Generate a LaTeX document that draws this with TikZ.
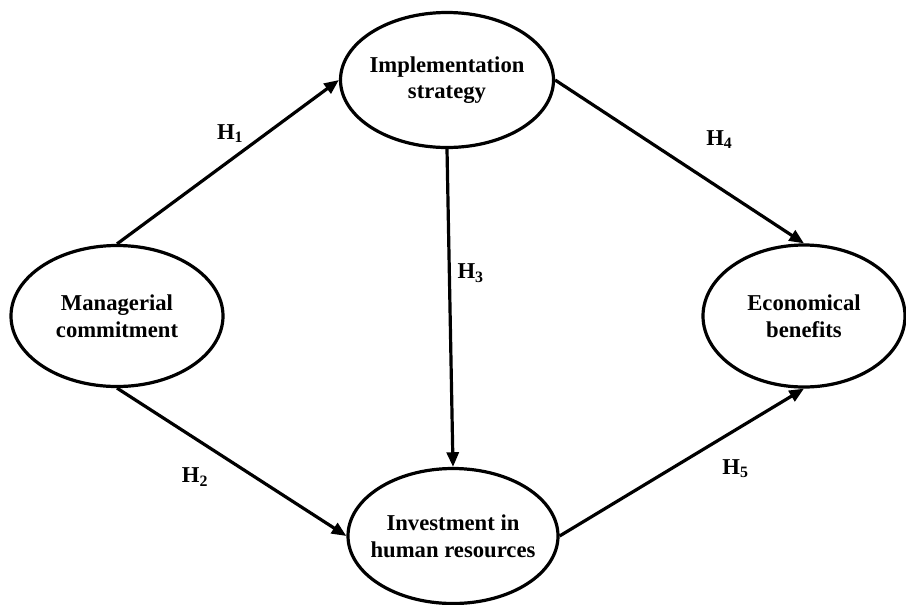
\documentclass[tikz,border=0pt]{standalone}
\usepackage{fontspec}
\setmainfont{Liberation Serif}
\usetikzlibrary{shapes, arrows.meta}

\begin{document}
\begin{tikzpicture}[x=0.75pt, y=-0.75pt, >={Triangle[length=11pt,width=9pt]},
    construct/.style 2 args={draw, ellipse, line width=2.4pt, inner sep=0pt,
      minimum width=#1*0.75pt, minimum height=#2*0.75pt},
    txt/.style={inner sep=0pt, align=center, font=\bfseries\fontsize{17pt}{20pt}\selectfont},
    hyp/.style={inner sep=0pt, font=\bfseries\fontsize{17pt}{20pt}\selectfont}]
      \useasboundingbox (0,0) rectangle (906,604);
      \node[construct={212}{141}, label={[txt]center:Managerial\\commitment}]          (mc)  at (117,316) {};
      \node[construct={213}{135}, label={[txt]center:Implementation\\strategy}]        (is)  at (447,80)  {};
      \node[construct={210}{135}, label={[txt]center:Investment in\\human resources}]  (inv) at (453,536) {};
      \node[construct={202}{142}, label={[txt]center:Economical\\benefits}]            (eb)  at (804,316) {};
      \path[->, line width=2.4pt]
        (mc.north) edge node [hyp, pos=.51, above=12pt] {H\textsubscript{1}} (is.west)
        (mc.south) edge node [hyp, pos=.34, below=21pt] {H\textsubscript{2}} (inv.west)
        (is.south) edge node [hyp, pos=.39, right=5pt]  {H\textsubscript{3}} (inv.north)
        (is.east)  edge node [hyp, pos=.66, above=28pt] {H\textsubscript{4}} (eb.north)
        (inv.east) edge node [hyp, pos=.72, below=21pt] {H\textsubscript{5}} (eb.south);
    \end{tikzpicture}
\end{document}
